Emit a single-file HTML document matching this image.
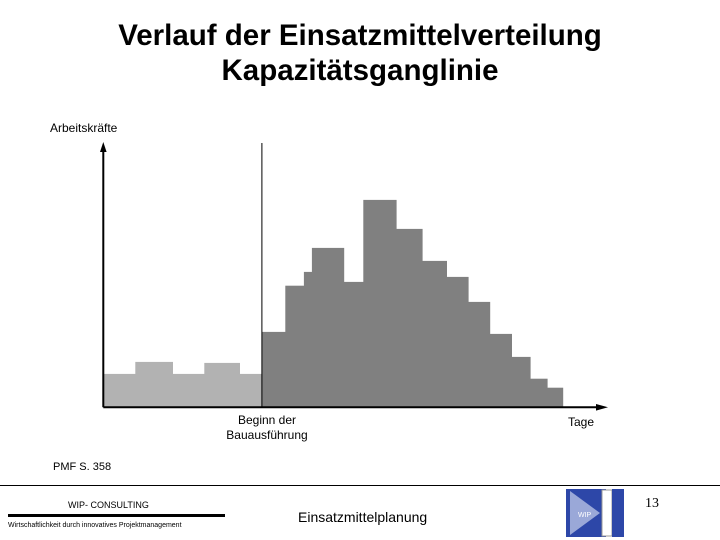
<!DOCTYPE html>
<html><head><meta charset="utf-8"><style>
body{margin:0;background:#fff;font-family:"Liberation Sans",sans-serif}
#c{position:relative;width:720px;height:540px;overflow:hidden}
.t{position:absolute;white-space:nowrap;color:#000}
</style></head><body>
<div id="c">
<div class="t" style="left:0;width:720px;text-align:center;top:18px;font-size:29.5px;line-height:35px;font-weight:bold">Verlauf der Einsatzmittelverteilung<br>Kapazitätsganglinie</div>
<div class="t" style="left:50px;top:121px;font-size:12px">Arbeitskräfte</div>
<svg id="chart" width="720" height="540" style="position:absolute;left:0;top:0"></svg>
<div class="t" style="left:207px;width:120px;text-align:center;top:413px;font-size:12px;line-height:15px">Beginn der<br>Bauausführung</div>
<div class="t" style="left:568px;top:415px;font-size:12px">Tage</div>
<div class="t" style="left:53px;top:461px;font-size:11px">PMF S. 358</div>
<div style="position:absolute;left:0;top:485px;width:720px;height:1px;background:#000"></div>
<div class="t" style="left:68px;top:500px;font-size:9px">WIP- CONSULTING</div>
<div style="position:absolute;left:8px;top:514px;width:217px;height:3px;background:#000"></div>
<div class="t" style="left:8px;top:522px;font-size:7px">Wirtschaftlichkeit durch innovatives Projektmanagement</div>
<div class="t" style="left:298px;top:509px;font-size:14px">Einsatzmittelplanung</div>
<svg width="62" height="52" style="position:absolute;left:564px;top:487px">
<rect x="2" y="2" width="40" height="48" fill="#2d47a8"/>
<polygon points="6,4 36,26 6,48" fill="#9aa8d8"/>
<rect x="38" y="3" width="10" height="46" fill="#fff" stroke="#999"/>
<rect x="48" y="2" width="12" height="48" fill="#2d47a8"/>
<text x="14" y="30" font-size="7" fill="#fff" font-family="Liberation Sans">WIP</text>
</svg>
<div class="t" style="left:645px;top:496px;font-size:14px;font-family:'Liberation Serif',serif">13</div>
</div>
<script>
const lightEdges=[0,16,34.7,50.5,68.2,79.3];
const lightValues=[16.7,22.7,16.7,22.2,16.7];
const darkEdges=[79.3,91,100.3,104.3,120.3,130,146.5,159.5,171.7,182.5,193.3,204.2,213.5,222,229.8];
const darkValues=[37.7,60.8,67.7,79.7,62.7,103.7,89.2,73.2,65.2,52.7,36.7,25.2,14.3,9.8];
const svg=document.getElementById('chart');
const NS='http://www.w3.org/2000/svg';
const x0=103.3,base=407.3;
function xs(d){return x0+d*2;}
function ys(v){return base-v*2;}
function draw(edges,vals,fill,name){
 for(let i=0;i<vals.length;i++){
  const r=document.createElementNS(NS,'rect');
  r.setAttribute('x',xs(edges[i]));r.setAttribute('width',xs(edges[i+1])-xs(edges[i])+0.3);
  r.setAttribute('y',ys(vals[i]));r.setAttribute('height',base-ys(vals[i]));
  r.setAttribute('fill',fill);
  
  
  svg.appendChild(r);
 }
}
draw(lightEdges,lightValues,'#b2b2b2','preparation-bar');
draw(darkEdges,darkValues,'#808080','construction-bar');
function line(x1,y1,x2,y2,w,n){
 const l=document.createElementNS(NS,'line');
 l.setAttribute('x1',x1);l.setAttribute('y1',y1);l.setAttribute('x2',x2);l.setAttribute('y2',y2);
 l.setAttribute('stroke','#000');l.setAttribute('stroke-width',w);
 
 
 svg.appendChild(l);
}
line(x0,base,x0,150,2,'y-axis');
line(x0,base,598,base,2,'x-axis');
line(xs(lightEdges[lightEdges.length-1]),143,xs(lightEdges[lightEdges.length-1]),base,1,'construction-start-line');
function arrow(pts,n){
 const p=document.createElementNS(NS,'polygon');
 p.setAttribute('points',pts);p.setAttribute('fill','#000');
 
 
 svg.appendChild(p);
}
arrow('100,152 103.3,142 106.6,152','y-axis-arrow');
arrow('596,404 608,407.3 596,410.6','x-axis-arrow');
</script>
</body></html>
